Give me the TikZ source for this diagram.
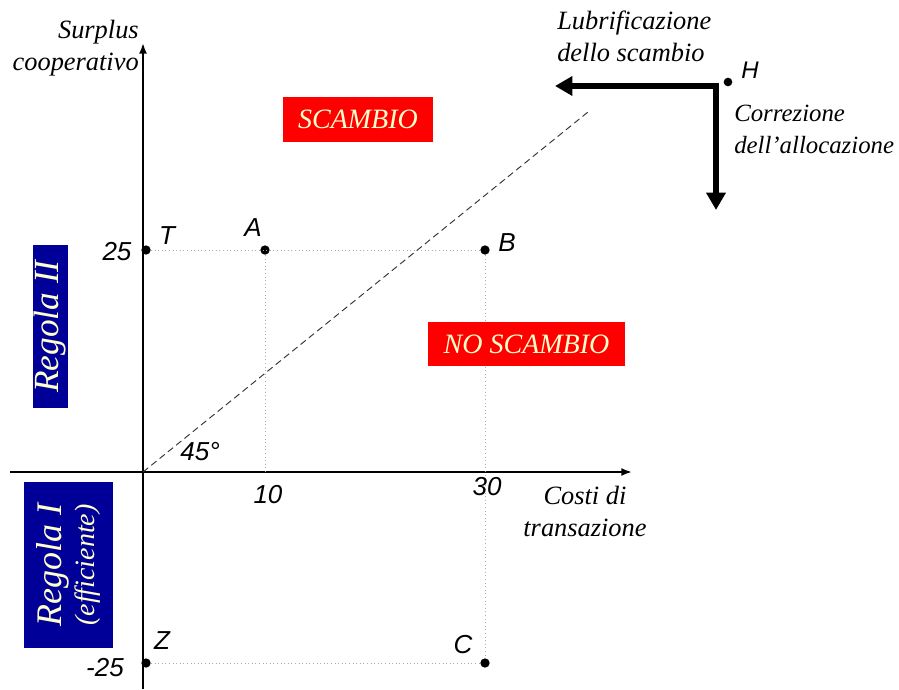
\documentclass[tikz,border=0pt]{standalone}
\usepackage{fontspec}
\setmainfont{Liberation Serif}
\setsansfont{Liberation Sans}
\usetikzlibrary{arrows.meta, positioning, calc}
\definecolor{navy}{RGB}{0,0,153}
\definecolor{cream}{RGB}{255,255,204}

\begin{document}
\begin{tikzpicture}[
  x=0.75pt, y=-0.75pt,
  lab/.style  ={font=\fontsize{19.5}{22}\selectfont\sffamily\itshape, inner sep=0pt},
  ser/.style  ={font=\fontsize{19.8}{24}\selectfont\itshape, inner sep=0pt},
  dot/.style  ={circle, fill=black, inner sep=0pt, minimum size=7pt},
  axis/.style ={-{Latex[length=8pt,width=6pt]}, line width=1.5pt},
  guide/.style={gray!65, dotted, line width=0.7pt},
  diag/.style ={gray!40!black, dashed, line width=0.7pt, dash pattern=on 5pt off 3pt},
  tag/.style  ={fill=red, text=cream, font=\fontsize{21}{24}\selectfont\itshape,
                inner sep=0pt},
  rulebox/.style={fill=navy, text=cream, rotate=90, align=center, inner sep=0pt},
  move/.style ={{Triangle[length=13pt,width=14pt]}-{Triangle[length=13pt,width=14pt]},
                line width=4.5pt, line join=miter},
]
\useasboundingbox (0,0) rectangle (899,689);

% ================= axes =================
\coordinate (O)  at (143,472);
\coordinate (xs) at (10,472);
\coordinate (xe) at (632,472);
\coordinate (ys) at (143,689);
\coordinate (ye) at (143,43);
\draw[axis] (xs) -- (xe);
\draw[axis] (ys) -- (ye);

\node[ser, anchor=north east, align=right] (ylab) at (139,20) {Surplus\\cooperativo};
\node[ser, align=center] (xlab) at (585,511) {Costi di\\transazione};

% ================= points =================
\node[dot] (T) at (146,250) {};
\node[dot] (A) at (265,250) {};
\node[dot] (B) at (485,250) {};
\node[dot] (Z) at (146,663) {};
\node[dot] (C) at (485,663) {};
\node[dot, minimum size=6.5pt] (H) at (728,82) {};
\coordinate (A0) at (A |- O);

\draw[guide] (T) -- (B);
\draw[guide] (A) -- (A0);
\draw[guide] (B) -- (C);
\draw[guide] (Z) -- (C);

\node[lab] (Tl) at (167,236) {T};
\node[lab] (Al) at (253,228) {A};
\node[lab] (Bl) at (507,243) {B};
\node[lab] (Zl) at (162,641) {Z};
\node[lab] (Cl) at (463,645) {C};
\node[lab, font=\fontsize{18}{20}\selectfont\sffamily\itshape] (Hl) at (750,70) {H};

\node[lab] (y25)  at (117,252) {25};
\node[lab] (ym25) at (105,668) {-25};
\node[lab] (x10)  at (268,495) {10};
\node[lab] (x30)  at (487,487) {30};
\node[lab] (ang)  at (200,452) {45°};

% ================= 45 degree line =================
\coordinate (dend) at (588,112);
\draw[diag] (O) -- (dend);

% ================= regions =================
\node[tag, minimum width=112.5pt, minimum height=33.75pt] (sc) at (358,119.5) {SCAMBIO};
\node[tag, minimum width=148pt, minimum height=33pt] (nosc) at (526.5,344) {NO SCAMBIO};

\node[rulebox, minimum width=122pt, minimum height=26pt,
      font=\fontsize{26.5}{26}\selectfont\itshape] (r2) at (50.5,326.5) {Regola II};
\node[rulebox, minimum width=124.5pt, minimum height=67pt,
      font=\fontsize{27}{25}\selectfont\itshape] (r1) at (68.5,565)
  {Regola I\\{\fontsize{21}{21}\selectfont(efficiente)}};

% ================= policy arrows from H =================
\coordinate (bend) at (716,86);
\coordinate (lub)  at (555,86);
\coordinate (cor)  at (716,210);
\draw[move] (lub) -- (bend) -- (cor);

\node[ser, anchor=north west, align=left] (lubl) at (557,11) {Lubrificazione\\dello scambio};
\node[ser, anchor=north west, align=left, font=\fontsize{18.6}{24}\selectfont\itshape]
  (corl) at (734,105) {Correzione\\dell'allocazione};

\end{tikzpicture}
\end{document}
